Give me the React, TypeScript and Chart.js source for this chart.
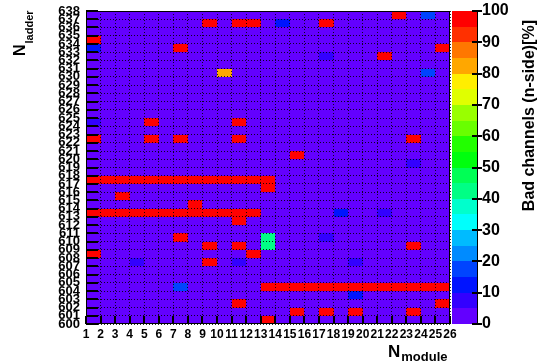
import { useEffect, useRef } from 'react';
import { Chart, registerables } from 'chart.js';

Chart.register(...registerables);

// Module bins along x (module n fills [n, n+1]) and ladder bins along y (ladder n fills [n, n+1])
const MODULES = [1, 2, 3, 4, 5, 6, 7, 8, 9, 10, 11, 12, 13, 14, 15, 16, 17, 18, 19, 20, 21, 22, 23, 24, 25];
const LADDERS = [
  600, 601, 602, 603, 604, 605, 606, 607, 608, 609, 610, 611, 612, 613, 614, 615, 616, 617, 618,
  619, 620, 621, 622, 623, 624, 625, 626, 627, 628, 629, 630, 631, 632, 633, 634, 635, 636, 637,
];

// Cells with bad n-side channels (every other cell is 0 %)
const BAD_LADDER = [
  637, 637,
  636, 636, 636, 636, 636,
  634,
  633, 633, 633,
  632, 632,
  630, 630,
  624, 624, 624,
  622, 622, 622, 622, 622,
  620,
  619,
  617, 617, 617, 617, 617, 617, 617, 617, 617, 617, 617, 617, 617,
  616,
  615,
  614,
  613, 613, 613, 613, 613, 613, 613, 613, 613, 613, 613, 613, 613, 613,
  612,
  610, 610, 610,
  609, 609, 609, 609,
  608, 608,
  607, 607, 607, 607,
  604, 604, 604, 604, 604, 604, 604, 604, 604, 604, 604, 604, 604, 604,
  603,
  602, 602,
  601, 601, 601, 601,
  600,
];
const BAD_MODULE = [
  22, 24,
  9, 11, 12, 14, 17,
  1,
  1, 7, 25,
  17, 21,
  10, 24,
  1, 5, 11,
  1, 5, 7, 11, 23,
  15,
  23,
  1, 2, 3, 4, 5, 6, 7, 8, 9, 10, 11, 12, 13,
  13,
  3,
  8,
  1, 2, 3, 4, 5, 6, 7, 8, 9, 10, 11, 12, 18, 21,
  11,
  7, 13, 17,
  9, 11, 13, 23,
  1, 12,
  4, 9, 11, 19,
  7, 13, 14, 15, 16, 17, 18, 19, 20, 21, 22, 23, 24, 25,
  19,
  11, 25,
  15, 17, 19, 23,
  13,
];
const BAD_PERCENT = [
  100, 17,
  100, 100, 100, 12, 100,
  100,
  12, 100, 100,
  8, 100,
  82, 17,
  8, 100, 100,
  100, 100, 100, 100, 100,
  100,
  8,
  100, 100, 100, 100, 100, 100, 100, 100, 100, 100, 100, 100, 100,
  100,
  100,
  100,
  100, 100, 100, 100, 100, 100, 100, 100, 100, 100, 100, 100, 12, 8,
  100,
  100, 42, 8,
  100, 100, 42, 100,
  100, 100,
  8, 100, 8, 8,
  17, 100, 100, 100, 100, 100, 100, 100, 100, 100, 100, 100, 100, 100,
  12,
  100, 100,
  100, 100, 100, 100,
  100,
];

// 20 colour bands of 5 % each, violet -> red
const PALETTE = [
  '#6300ff', '#3300ff', '#0014ff', '#0044ff', '#008bff',
  '#00bbff', '#00fffc', '#00ffcc', '#00ff85', '#00ff55',
  '#00ff0e', '#22ff00', '#69ff00', '#99ff00', '#e0ff00',
  '#ffee00', '#ffa700', '#ff7700', '#ff3000', '#ff0000',
];

const FONT = 'Liberation Sans';

const colourFor = (v: number) => PALETTE[Math.min(PALETTE.length - 1, Math.floor(v / 5))];

export default function App() {
  const ref = useRef<HTMLCanvasElement>(null);

  useEffect(() => {
    const canvas = ref.current;
    if (!canvas) return;

    const lookup = new Map<string, number>();
    BAD_MODULE.forEach((m, i) => lookup.set(`${m}:${BAD_LADDER[i]}`, BAD_PERCENT[i]));
    const cells: { x: number; y: number; v: number }[] = [];
    for (const l of LADDERS) {
      for (const m of MODULES) {
        cells.push({ x: m, y: l, v: lookup.get(`${m}:${l}`) ?? 0 });
      }
    }

    const heatmap = {
      id: 'heatmap',
      beforeDatasetsDraw(chart: any) {
        const { ctx, scales } = chart;
        const x = scales.x;
        const y = scales.y;
        ctx.save();
        for (const c of chart.data.datasets[0].data as any[]) {
          const x0 = Math.round(x.getPixelForValue(c.x));
          const x1 = Math.round(x.getPixelForValue(c.x + 1));
          const y0 = Math.round(y.getPixelForValue(c.y + 1));
          const y1 = Math.round(y.getPixelForValue(c.y));
          ctx.fillStyle = colourFor(c.v);
          ctx.fillRect(x0, y0, x1 - x0, y1 - y0);
        }
        ctx.restore();
      },
      afterDraw(chart: any) {
        const { ctx, chartArea, scales } = chart;
        const { left, right, top, bottom } = chartArea;
        const L = Math.round(left);
        const R = Math.round(right);
        const T = Math.round(top);
        const B = Math.round(bottom);
        ctx.save();

        // frame
        ctx.strokeStyle = '#000';
        ctx.lineWidth = 1;
        ctx.strokeRect(L + 0.5, T + 0.5, R - L - 1, B - T - 1);

        // inward tick marks
        ctx.fillStyle = '#000';
        for (const t of scales.y.ticks) {
          const py = Math.round(scales.y.getPixelForValue(t.value));
          ctx.fillRect(L, py - 1, 12, 2);
        }
        for (const t of scales.x.ticks) {
          const px = Math.round(scales.x.getPixelForValue(t.value));
          ctx.fillRect(px - 1, B - 8, 2, 8);
        }

        // colour bar
        const z = scales.z;
        const bx0 = R + 2;
        const bx1 = R + 27;
        for (let k = 0; k < PALETTE.length; k++) {
          const y0 = Math.round(z.getPixelForValue((k + 1) * 5));
          const y1 = Math.round(z.getPixelForValue(k * 5));
          ctx.fillStyle = PALETTE[k];
          ctx.fillRect(bx0, y0, bx1 - bx0, y1 - y0);
        }
        ctx.fillStyle = '#000';
        ctx.fillRect(bx1, T, 1, B - T);
        for (const t of z.ticks) {
          const py = Math.round(z.getPixelForValue(t.value));
          ctx.fillRect(bx1 - 5, py - 1, 10, 2);
        }

        // axis titles
        ctx.fillStyle = '#000';
        ctx.textAlign = 'left';
        ctx.textBaseline = 'alphabetic';

        // y title: N with subscript "ladder"
        ctx.save();
        ctx.translate(25, 56);
        ctx.rotate(-Math.PI / 2);
        ctx.font = `bold 16px "${FONT}"`;
        ctx.fillText('N', 0, 0);
        const nW = ctx.measureText('N').width;
        ctx.font = `bold 11px "${FONT}"`;
        ctx.fillText('ladder', nW + 1, 8);
        ctx.restore();

        // x title: N with subscript "module"
        ctx.font = `bold 17px "${FONT}"`;
        ctx.fillText('N', 388, 357);
        const nW2 = ctx.measureText('N').width;
        ctx.font = `bold 13px "${FONT}"`;
        ctx.fillText('module', 388 + nW2 + 1, 361);

        // colour bar title
        ctx.save();
        ctx.translate(534, 20);
        ctx.rotate(-Math.PI / 2);
        ctx.textAlign = 'right';
        ctx.font = `bold 16px "${FONT}"`;
        ctx.fillText('Bad channels (n-side)[%]', 0, 0);
        ctx.restore();

        ctx.restore();
      },
    };

    const hidden = 'rgba(0,0,0,0)';
    const dotted = { display: false, dash: [1, 2] };

    const chart = new Chart(canvas, {
      type: 'scatter',
      data: {
        datasets: [
          {
            label: 'bad channels',
            data: cells as any,
            pointRadius: 0,
            pointHoverRadius: 0,
          },
        ],
      },
      options: {
        animation: false,
        responsive: false,
        devicePixelRatio: 1,
        events: [],
        layout: { padding: { top: 11, left: 0, right: 0, bottom: 0 } },
        plugins: { legend: { display: false }, tooltip: { enabled: false } },
        scales: {
          x: {
            type: 'linear',
            position: 'bottom',
            min: 1,
            max: 26,
            afterFit: (s: any) => {
              s.height = 39;
            },
            ticks: {
              stepSize: 1,
              autoSkip: false,
              maxRotation: 0,
              minRotation: 0,
              padding: 1,
              color: '#000',
              font: { family: FONT, size: 12, weight: 'bold' },
            },
            grid: { color: 'rgba(0,0,0,0.85)', lineWidth: 1, drawTicks: true, tickLength: 2, tickColor: hidden, z: 1 },
            border: dotted,
          },
          y: {
            type: 'linear',
            position: 'left',
            min: 600,
            max: 638,
            afterFit: (s: any) => {
              s.width = 86;
            },
            ticks: {
              stepSize: 1,
              autoSkip: false,
              padding: 1,
              color: '#000',
              font: { family: FONT, size: 13, weight: 'bold' },
            },
            grid: { color: 'rgba(0,0,0,0.85)', lineWidth: 1, drawTicks: true, tickLength: 5, tickColor: hidden, z: 1 },
            border: dotted,
          },
          z: {
            type: 'linear',
            position: 'right',
            min: 0,
            max: 100,
            afterFit: (s: any) => {
              s.width = 90;
            },
            ticks: {
              stepSize: 10,
              autoSkip: false,
              padding: 1,
              color: '#000',
              font: { family: FONT, size: 16, weight: 'bold' },
            },
            grid: { drawOnChartArea: false, drawTicks: true, tickLength: 31, tickColor: hidden },
            border: { display: false },
          },
        },
      } as any,
      plugins: [heatmap],
    });

    return () => chart.destroy();
  }, []);

  return (
    <div style={{ position: 'fixed', left: 0, top: 0, width: 540, height: 363, background: '#fff' }}>
      <canvas ref={ref} width={540} height={363} style={{ display: 'block' }} />
    </div>
  );
}
